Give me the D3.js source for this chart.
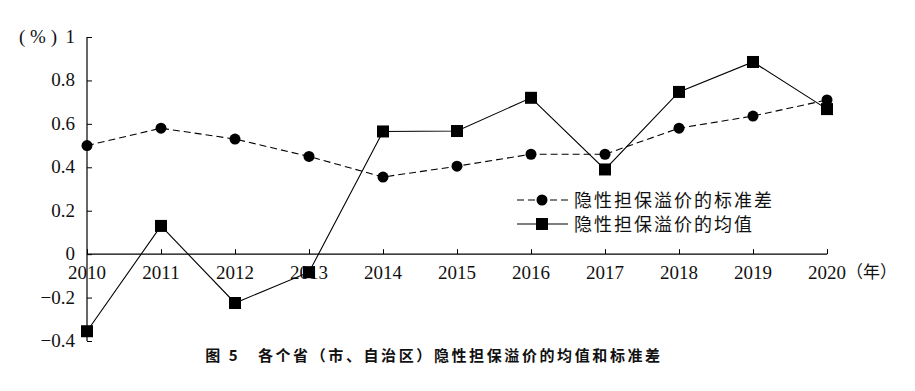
<!DOCTYPE html>
<html><head><meta charset="utf-8">
<script src="https://cdn.jsdelivr.net/npm/d3@7"></script>
<style>body{margin:0;background:#fff}svg{display:block}</style>
</head><body>
<svg id="c" width="915" height="391"></svg>
<script>
const years = [2010,2011,2012,2013,2014,2015,2016,2017,2018,2019,2020];
const stdValues = [0.50,0.58,0.53,0.45,0.355,0.405,0.46,0.46,0.58,0.636,0.71];
const meanValues = [-0.355,0.13,-0.225,-0.083,0.565,0.567,0.72,0.39,0.747,0.885,0.668];
const yTicks = [-0.4,-0.2,0,0.2,0.4,0.6,0.8,1];
const stdLabel = "隐性担保溢价的标准差";
const meanLabel = "隐性担保溢价的均值";
const caption = "图 5　各个省（市、自治区）隐性担保溢价的均值和标准差";

const svg = d3.select("#c");
const x = d3.scaleLinear().domain([2010,2020]).range([87,827]);
const y = d3.scaleLinear().domain([-0.4,1]).range([341,37]);
const serif = "'Liberation Serif','Times New Roman',serif";
const cjk = "'Noto Sans CJK SC',sans-serif";

// y axis
const ya = svg.append("g").attr("transform","translate(87,0)")
  .call(d3.axisRight(y).tickValues(yTicks).tickSize(5).tickFormat(()=>""));
ya.select(".domain").attr("stroke","#000").attr("stroke-width",1.2).attr("d","M0,37V341");
ya.selectAll(".tick line").attr("stroke","#000");
// y labels
svg.append("g").selectAll("text").data(yTicks).join("text")
  .attr("x",75).attr("y",d=>y(d)+6).attr("text-anchor","end")
  .attr("font-family",serif).attr("font-size",19).attr("fill","#111")
  .text(d=>d===0?"0":(d<0?"−"+d3.format(".1f")(-d):(d===1?"1":d3.format(".1f")(d))));
svg.append("text").attr("x",19).attr("y",43).attr("font-family",serif).attr("font-size",19).attr("fill","#111").attr("xml:space","preserve").text("( % )");

// x axis
const xa = svg.append("g").attr("transform",`translate(0,${y(0)})`)
  .call(d3.axisTop(x).tickValues(years).tickSize(5).tickFormat(()=>""));
xa.select(".domain").attr("stroke","#000").attr("stroke-width",1.2).attr("d","M87,0H827");
xa.selectAll(".tick line").attr("stroke","#000");
svg.append("g").selectAll("text").data(years).join("text")
  .attr("x",d=>x(d)).attr("y",y(0)+25).attr("text-anchor","middle")
  .attr("font-family",serif).attr("font-size",19).attr("fill","#111").text(d=>d);
svg.append("text").attr("x",846).attr("y",y(0)+24).attr("font-family",cjk).attr("font-size",17).attr("fill","#111").text("（年）");

// lines
const line = d3.line().x((d,i)=>x(years[i])).y(d=>y(d));
svg.append("path").datum(stdValues).attr("d",line).attr("fill","none")
  .attr("stroke","#000").attr("stroke-width",1.1).attr("stroke-dasharray","7,4");
svg.append("path").datum(meanValues).attr("d",line).attr("fill","none")
  .attr("stroke","#000").attr("stroke-width",1.1);
svg.append("g").selectAll("circle").data(stdValues).join("circle")
  .attr("cx",(d,i)=>x(years[i])).attr("cy",d=>y(d)).attr("r",5.5).attr("fill","#000");
svg.append("g").selectAll("rect").data(meanValues).join("rect")
  .attr("x",(d,i)=>x(years[i])-6).attr("y",d=>y(d)-6).attr("width",12).attr("height",12).attr("fill","#000");

// legend
const lg = svg.append("g");
lg.append("line").attr("x1",517).attr("x2",568).attr("y1",200).attr("y2",200).attr("stroke","#000").attr("stroke-width",1.1).attr("stroke-dasharray","7,4");
lg.append("circle").attr("cx",542).attr("cy",200).attr("r",5.5).attr("fill","#000");
lg.append("line").attr("x1",517).attr("x2",568).attr("y1",224).attr("y2",224).attr("stroke","#000").attr("stroke-width",1.1);
lg.append("rect").attr("x",536).attr("y",218).attr("width",12).attr("height",12).attr("fill","#000");
lg.append("text").attr("x",574).attr("y",207).attr("font-family",cjk).attr("font-size",18).attr("letter-spacing",2).attr("fill","#111").text(stdLabel);
lg.append("text").attr("x",574).attr("y",231).attr("font-family",cjk).attr("font-size",18).attr("letter-spacing",2).attr("fill","#111").text(meanLabel);

// caption
svg.append("text").attr("x",434).attr("y",361).attr("text-anchor","middle")
  .attr("font-family",cjk).attr("font-size",15).attr("font-weight","bold").attr("fill","#111")
  .attr("letter-spacing",2.6).text(caption);
</script>
</body></html>
